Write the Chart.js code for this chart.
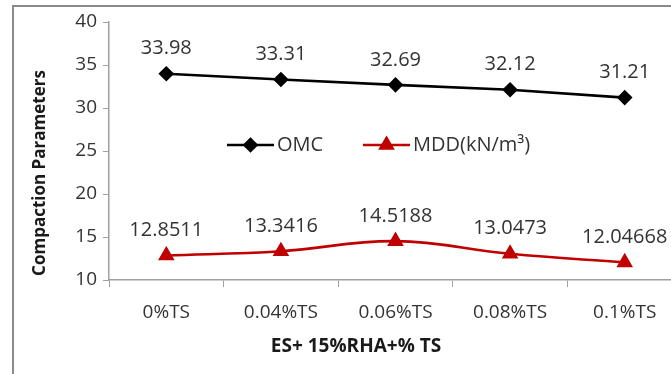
<!DOCTYPE html>
<html>
<head>
<meta charset="utf-8">
<script src="https://cdn.jsdelivr.net/npm/chart.js@4/dist/chart.umd.min.js"></script>
<style>
  html, body { margin: 0; padding: 0; background: #fff; overflow: hidden; }
  #wrap { position: relative; width: 700px; height: 374px; }
  #frame { position: absolute; left: 12px; top: 5px; width: 720px; height: 400px; border: 2px solid #8a8a8a; box-sizing: border-box; }
  canvas { position: absolute; left: 0; top: 0; }
</style>
</head>
<body>
<div id="wrap">
  <div id="frame"></div>
  <canvas id="compChart" width="700" height="374"></canvas>
</div>
<script>
// 横轴类别
const categories = ['0%TS', '0.04%TS', '0.06%TS', '0.08%TS', '0.1%TS'];
// 最优含水量
const omcValues = [33.98, 33.31, 32.69, 32.12, 31.21];
// 最大干密度
const mddValues = [12.8511, 13.3416, 14.5188, 13.0473, 12.04668];
const mddLabels = ['12.8511', '13.3416', '14.5188', '13.0473', '12.04668'];
const omcLabels = ['33.98', '33.31', '32.69', '32.12', '31.21'];
// 纵轴刻度
const yMin = 10, yMax = 40, yStep = 5;

const textColor = '#333333';
const fontName = '"Open Sans", "DejaVu Sans", sans-serif';

// 数据标签
const valueLabels = {
  id: 'valueLabels',
  afterDatasetsDraw(chart) {
    const ctx = chart.ctx;
    ctx.save();
    ctx.font = '20px ' + fontName;
    ctx.fillStyle = textColor;
    ctx.textAlign = 'center';
    ctx.textBaseline = 'middle';
    chart.data.datasets.forEach((ds, i) => {
      chart.getDatasetMeta(i).data.forEach((pt, j) => {
        ctx.fillText(ds.labelsText[j], pt.x, pt.y - 25);
      });
    });
    ctx.restore();
  }
};

// 图例 + 轴标题
const extras = {
  id: 'extras',
  afterDraw(chart) {
    const ctx = chart.ctx;
    ctx.save();
    const items = [
      { ds: chart.data.datasets[0], x: 227, y: 145 },
      { ds: chart.data.datasets[1], x: 363, y: 145 }
    ];
    items.forEach(it => {
      ctx.strokeStyle = it.ds.borderColor;
      ctx.lineWidth = it.ds.borderWidth;
      ctx.beginPath();
      ctx.moveTo(it.x, it.y);
      ctx.lineTo(it.x + 47, it.y);
      ctx.stroke();
      Chart.helpers.drawPoint(ctx, {
        pointStyle: it.ds.pointStyle,
        radius: it.ds.pointRadius,
        borderWidth: 1
      }, it.x + 23.5, it.y);
      ctx.fillStyle = it.ds.pointBackgroundColor;
      ctx.fill();
      ctx.fillStyle = textColor;
      ctx.font = '20px ' + fontName;
      ctx.textAlign = 'left';
      ctx.textBaseline = 'middle';
      ctx.fillText(it.ds.label, it.x + 50, it.y);
    });

    ctx.fillStyle = '#1a1a1a';
    ctx.font = 'bold 19px ' + fontName;
    ctx.textAlign = 'center';
    ctx.textBaseline = 'middle';
    ctx.fillText('ES+ 15%RHA+% TS', 356, 347);

    ctx.font = 'bold 17px ' + fontName;
    ctx.translate(40, 173);
    ctx.rotate(-Math.PI / 2);
    ctx.fillText('Compaction Parameters', 0, 0);
    ctx.restore();
  }
};

const ctx = document.getElementById('compChart').getContext('2d');
new Chart(ctx, {
  type: 'line',
  data: {
    labels: categories,
    datasets: [{
      label: 'OMC',
      data: omcValues,
      labelsText: omcLabels,
      borderColor: '#000000',
      backgroundColor: '#000000',
      pointBackgroundColor: '#000000',
      pointBorderColor: '#000000',
      borderWidth: 2.6,
      pointStyle: 'rectRot',
      pointRadius: 6,
      tension: 0
    }, {
      label: 'MDD(kN/m³)',
      data: mddValues,
      labelsText: mddLabels,
      borderColor: '#c00000',
      backgroundColor: '#c00000',
      pointBackgroundColor: '#c00000',
      pointBorderColor: '#c00000',
      borderWidth: 2.6,
      pointStyle: 'triangle',
      pointRadius: 7,
      tension: 0.4
    }]
  },
  options: {
    responsive: false,
    animation: false,
    layout: { padding: { top: 22, right: 18, left: 0, bottom: 0 } },
    plugins: {
      legend: { display: false },
      tooltip: { enabled: false }
    },
    scales: {
      x: {
        offset: true,
        grid: { offset: true, drawOnChartArea: false, tickLength: 7, color: '#a0a0a0' },
        border: { color: '#a0a0a0', width: 1.5 },
        ticks: { color: textColor, font: { family: fontName, size: 19 }, padding: 14, maxRotation: 0 },
        afterFit(scale) { scale.height = 94; }
      },
      y: {
        min: yMin,
        max: yMax,
        grid: { drawOnChartArea: false, tickLength: 6, color: '#a0a0a0' },
        border: { color: '#a0a0a0', width: 1.5 },
        ticks: { stepSize: yStep, color: textColor, font: { family: fontName, size: 19 }, padding: 6 },
        afterFit(scale) { scale.width = 109; }
      }
    }
  },
  plugins: [valueLabels, extras]
});
</script>
</body>
</html>
